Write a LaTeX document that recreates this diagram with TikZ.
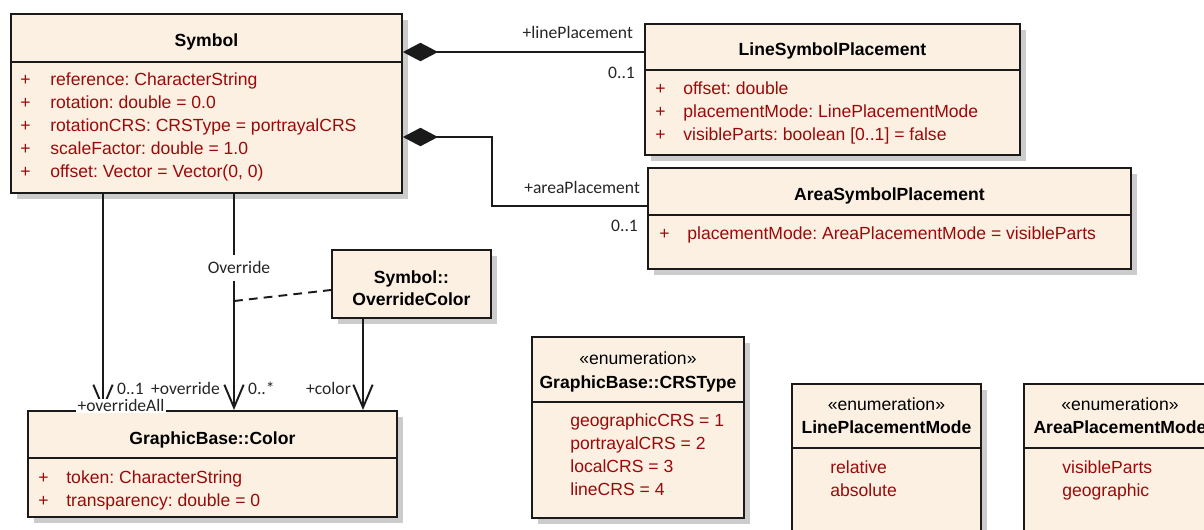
\documentclass[tikz,border=0pt]{standalone}
\usepackage{fontspec}
\setmainfont{Liberation Sans}
\newfontfamily\lblfont{Carlito}
\usetikzlibrary{arrows.meta, shadows}
\definecolor{classfill}{HTML}{FBF0E2}
\definecolor{classborder}{HTML}{1A1A1A}
\definecolor{attrred}{HTML}{9B0A0A}
\definecolor{linkline}{HTML}{1A1A1A}
\definecolor{labeltext}{HTML}{262626}
\definecolor{shadowgray}{HTML}{CCCCCC}
\frenchspacing
\tikzset{
  classbox/.style={rectangle, anchor=north west, inner sep=0pt, draw=classborder, fill=classfill, line width=1.1pt,
    drop shadow={shadow xshift=3.5pt, shadow yshift=-3.5pt, fill=shadowgray, opacity=1}},
  divider/.style={draw=classborder, line width=1.1pt},
  title/.style={font=\fontsize{10}{12}\selectfont\bfseries, inner sep=0pt, text height=7pt, text depth=0pt},
  stereo/.style={font=\fontsize{10}{12}\selectfont, inner sep=0pt, text height=7pt, text depth=0pt},
  attr/.style={anchor=west, text=attrred, font=\fontsize{10}{12}\selectfont, inner sep=0pt, text height=7pt, text depth=0pt},
  vis/.style={attr},
  role/.style={font=\lblfont\fontsize{10}{12}\selectfont, text=labeltext, inner sep=1pt, text height=6.5pt, text depth=0pt},
  compose/.style={{Diamond[length=20pt, width=10.5pt]}-, line width=1.1pt, draw=linkline},
  assoc/.style={-{Straight Barb[length=13pt, width=11pt, line width=1.1pt]}, line width=1.1pt, draw=linkline},
  assocclass/.style={line width=1.1pt, draw=linkline, dash pattern=on 5pt off 3.5pt}
}

\begin{document}
\begin{tikzpicture}[x=0.02cm, y=-0.02cm]
\useasboundingbox (0,0) rectangle (1204,529);
\clip (0,0) rectangle (1204,529);

% classes
\node[classbox, minimum width=7.82cm, minimum height=3.58cm] (symbol) at (10,13) {};
\node[classbox, minimum width=7.5cm, minimum height=2.62cm] (linesp) at (644,23) {};
\node[classbox, minimum width=9.66cm, minimum height=2.02cm] (areasp) at (647,167) {};
\node[classbox, minimum width=3.18cm, minimum height=1.36cm] (ovcolor) at (331,249) {};
\node[classbox, minimum width=7.38cm, minimum height=2.12cm] (color) at (27,410) {};
\node[classbox, minimum width=4.24cm, minimum height=3.62cm] (crstype) at (531,336) {};
\node[classbox, minimum width=3.78cm, minimum height=3.6cm] (linemode) at (791,383) {};
\node[classbox, minimum width=3.84cm, minimum height=3.6cm] (areamode) at (1023,383) {};

\draw[divider] (symbol.west |- 0,62) -- (symbol.east |- 0,62);
\draw[divider] (linesp.west |- 0,70) -- (linesp.east |- 0,70);
\draw[divider] (areasp.west |- 0,215) -- (areasp.east |- 0,215);
\draw[divider] (color.west |- 0,458) -- (color.east |- 0,458);
\draw[divider] (crstype.west |- 0,402) -- (crstype.east |- 0,402);
\draw[divider] (linemode.west |- 0,448) -- (linemode.east |- 0,448);
\draw[divider] (areamode.west |- 0,448) -- (areamode.east |- 0,448);

% names
\node[title] (symboltitle) at (symbol.north |- 0,40) {Symbol};
\node[title] (linesptitle) at (linesp.north |- 0,49) {LineSymbolPlacement};
\node[title] (areasptitle) at (areasp.north |- 0,194) {AreaSymbolPlacement};
\node[title] (ovcolortitle) at (ovcolor.north |- 0,277) {Symbol::};
\node[title] (ovcolorname) at (ovcolor.north |- 0,299) {OverrideColor};
\node[title] (colortitle) at (color.north |- 0,438) {GraphicBase::Color};
\node[stereo] (crsstereo) at (crstype.north |- 0,358) {«enumeration»};
\node[title] (crstitle) at (crstype.north |- 0,382) {GraphicBase::CRSType};
\node[stereo] (linemodestereo) at (linemode.north |- 0,404) {«enumeration»};
\node[title] (linemodetitle) at (linemode.north |- 0,427) {LinePlacementMode};
\node[stereo] (areamodestereo) at (areamode.north |- 0,404) {«enumeration»};
\node[title] (areamodetitle) at (areamode.north |- 0,427) {AreaPlacementMode};

% attributes
\foreach \txt [count=\i] in {{reference: CharacterString}, {rotation: double = 0.0}, {rotationCRS: CRSType = portrayalCRS}, {scaleFactor: double = 1.0}, {offset: Vector = Vector(0, 0)}} {
  \node[vis] (symplus\i) at (20, 56+23*\i) {+};
  \node[attr] (symattr\i) at (50, 56+23*\i) {\txt};
}
\foreach \txt [count=\i] in {{offset: double}, {placementMode: LinePlacementMode}, {visibleParts: boolean [0..1] = false}} {
  \node[vis] (lineplus\i) at (655, 65+23*\i) {+};
  \node[attr] (lineattr\i) at (683, 65+23*\i) {\txt};
}
\node[vis] (areaplus1) at (659,233) {+};
\node[attr] (areaattr1) at (687,233) {placementMode: AreaPlacementMode = visibleParts};
\foreach \txt [count=\i] in {{token: CharacterString}, {transparency: double = 0}} {
  \node[vis] (colorplus\i) at (38, 454+23*\i) {+};
  \node[attr] (colorattr\i) at (66, 454+23*\i) {\txt};
}
\foreach \txt [count=\i] in {{geographicCRS = 1}, {portrayalCRS = 2}, {localCRS = 3}, {lineCRS = 4}} {
  \node[attr] (crsval\i) at (570, 397+23*\i) {\txt};
}
\foreach \txt [count=\i] in {relative, absolute} {
  \node[attr] (lineval\i) at (830, 444+23*\i) {\txt};
}
\foreach \txt [count=\i] in {visibleParts, geographic} {
  \node[attr] (areaval\i) at (1062, 444+23*\i) {\txt};
}

% links
\coordinate (ovmid) at (234,301);
\draw[compose] (symbol.east |- 0,52) -- (linesp.west |- 0,52);
\draw[compose] (symbol.east |- 0,137) -| (492,206) -- (areasp.west |- 0,206);
\draw[assoc] (symbol.south -| 103,0) -- (color.north -| 103,0);
\draw[assoc] (symbol.south -| 234,0) -- (color.north -| 234,0);
\draw[assoc] (ovcolor.south -| 363,0) -- (color.north -| 363,0);
\draw[assocclass] (ovmid) -- (ovcolor.west |- 0,290);

% roles and multiplicities
\node[role, anchor=east] (lineplrole) at (635,33) {+linePlacement};
\node[role, anchor=east] (lineplmult) at (637,73) {0..1};
\node[role, anchor=east] (areaplrole) at (642,188) {+areaPlacement};
\node[role, anchor=east] (areaplmult) at (640,226) {0..1};
\node[role, fill=white, inner ysep=4pt] (overridename) at (239,268) {Override};
\node[role, anchor=west] (ovallmult) at (115,389) {0..1};
\node[role, anchor=east] (overriderole) at (222,389) {+override};
\node[role, anchor=west] (overridemult) at (246,389) {0..*};
\node[role, anchor=east] (colorrole) at (353,389) {+color};
\node[role, fill=white, inner ysep=0.5pt] (ovallrole) at (121,406) {+overrideAll};

\end{tikzpicture}
\end{document}
